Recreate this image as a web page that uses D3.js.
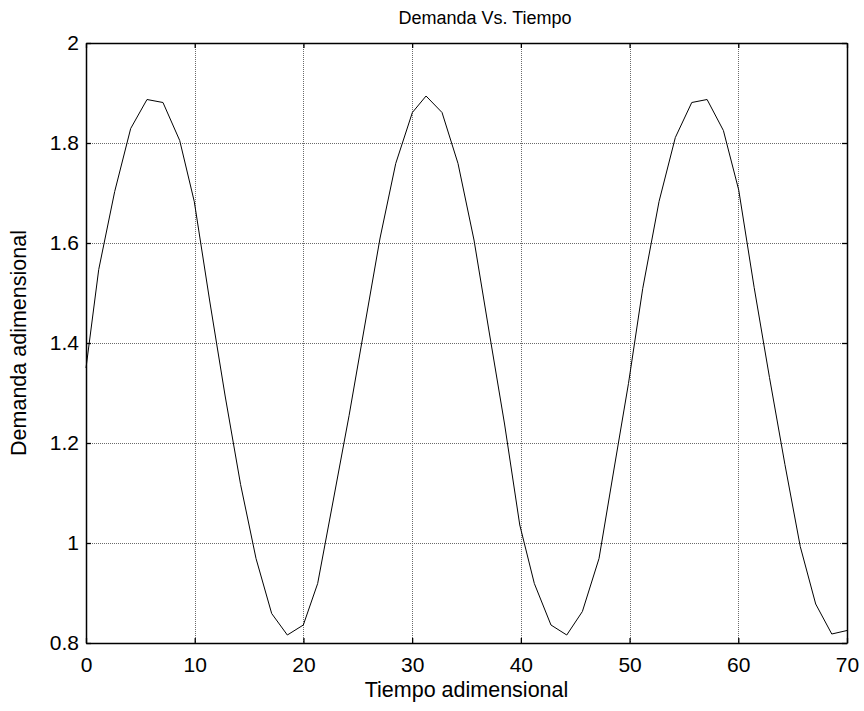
<!DOCTYPE html>
<html>
<head>
<meta charset="utf-8">
<script src="https://cdnjs.cloudflare.com/ajax/libs/d3/7.8.5/d3.min.js"></script>
<style>
  html, body { margin: 0; padding: 0; background: #ffffff; }
  svg { display: block; }
  text { font-family: Arial, "Liberation Sans", Helvetica, sans-serif; fill: #000; }
</style>
</head>
<body>
<svg id="chart" width="864" height="711"></svg>
<script>
// ---- data ----
const tiempo = [0, 1.17, 2.64, 4.11, 5.61, 7.08, 8.62, 9.96, 11.38, 12.8, 14.22, 15.64, 17.08, 18.52, 19.99,
  21.31, 22.75, 24.2, 25.65, 27.05, 28.49, 30.02, 31.28, 32.75, 34.22, 35.69, 37.1, 38.5, 39.9, 41.24,
  42.77, 44.22, 45.66, 47.19, 48.6, 49.9, 51.21, 52.71, 54.21, 55.72, 57.13, 58.63, 60.04, 61.46, 62.87,
  64.29, 65.7, 67.12, 68.6, 70];
const demanda = [1.35, 1.547, 1.703, 1.829, 1.887, 1.881, 1.805, 1.683, 1.484, 1.294, 1.117, 0.969, 0.859, 0.816, 0.836,
  0.919, 1.086, 1.255, 1.436, 1.61, 1.759, 1.861, 1.894, 1.861, 1.759, 1.606, 1.42, 1.238, 1.036, 0.919,
  0.836, 0.816, 0.863, 0.969, 1.152, 1.319, 1.509, 1.683, 1.811, 1.881, 1.887, 1.825, 1.706, 1.511, 1.331,
  1.157, 0.993, 0.878, 0.818, 0.825];
const xTicks = [0, 10, 20, 30, 40, 50, 60, 70];
const xTickLabels = ["0", "10", "20", "30", "40", "50", "60", "70"];
const yTicks = [0.8, 1.0, 1.2, 1.4, 1.6, 1.8, 2.0];
const yTickLabels = ["0.8", "1", "1.2", "1.4", "1.6", "1.8", "2"];
const titleText = "Demanda Vs. Tiempo";
const xLabelText = "Tiempo adimensional";
const yLabelText = "Demanda adimensional";

// ---- layout ----
const L = 86, R = 847, T = 43, B = 643;
const svg = d3.select("#chart");
svg.append("rect").attr("width", 864).attr("height", 711).attr("fill", "#fff");

const x = d3.scaleLinear().domain([0, 70]).range([L, R]);
const y = d3.scaleLinear().domain([0.8, 2]).range([B, T]);

// grid
const grid = svg.append("g").attr("stroke", "#6a6a6a").attr("stroke-width", 1)
  .attr("stroke-dasharray", "1,1").attr("shape-rendering", "crispEdges");
grid.selectAll("line.gx").data(xTicks.filter(v => v > 0 && v < 70)).join("line")
  .attr("x1", d => Math.round(x(d)) + 0.5).attr("x2", d => Math.round(x(d)) + 0.5)
  .attr("y1", T).attr("y2", B);
grid.selectAll("line.gy").data(yTicks.filter(v => v > 0.8 && v < 2)).join("line")
  .attr("y1", d => Math.round(y(d)) + 0.5).attr("y2", d => Math.round(y(d)) + 0.5)
  .attr("x1", L).attr("x2", R);

// data line
const line = d3.line().x((d, i) => x(tiempo[i])).y(d => y(d));
svg.append("path").datum(demanda)
  .attr("d", line).attr("fill", "none").attr("stroke", "#000").attr("stroke-width", 1);

// axes (inward ticks like MATLAB)
const fs = "21px";
const xi = d3.scaleOrdinal().domain(xTicks).range(xTickLabels);
const yi = d3.scaleOrdinal().domain(yTicks).range(yTickLabels);

const gB = svg.append("g").attr("transform", `translate(0,${B})`)
  .call(d3.axisBottom(x).tickValues(xTicks).tickFormat(d => xi(d)).tickSizeInner(-5).tickSizeOuter(0).tickPadding(14));
const gT = svg.append("g").attr("transform", `translate(0,${T})`)
  .call(d3.axisTop(x).tickValues(xTicks).tickFormat("").tickSizeInner(-5).tickSizeOuter(0));
const gL = svg.append("g").attr("transform", `translate(${L},0)`)
  .call(d3.axisLeft(y).tickValues(yTicks).tickFormat(d => yi(d)).tickSizeInner(-5).tickSizeOuter(0).tickPadding(7));
const gR = svg.append("g").attr("transform", `translate(${R},0)`)
  .call(d3.axisRight(y).tickValues(yTicks).tickFormat("").tickSizeInner(-5).tickSizeOuter(0));

[gB, gT, gL, gR].forEach(g => {
  g.selectAll("path.domain").attr("stroke", "#000").attr("stroke-width", 1.5);
  g.selectAll(".tick line").attr("stroke", "#000").attr("stroke-width", 1.3);
  g.selectAll("text").attr("font-size", fs).attr("font-family", "Arial, 'Liberation Sans', Helvetica, sans-serif").attr("fill", "#000");
});

// titles
svg.append("text").attr("x", 485).attr("y", 24).attr("text-anchor", "middle")
  .attr("font-size", "18px").text(titleText);
svg.append("text").attr("x", (L + R) / 2).attr("y", 697).attr("text-anchor", "middle")
  .attr("font-size", "21.5px").text(xLabelText);
svg.append("text").attr("transform", `translate(26,${(T + B) / 2}) rotate(-90)`).attr("text-anchor", "middle")
  .attr("font-size", "21.5px").text(yLabelText);
</script>
</body>
</html>
